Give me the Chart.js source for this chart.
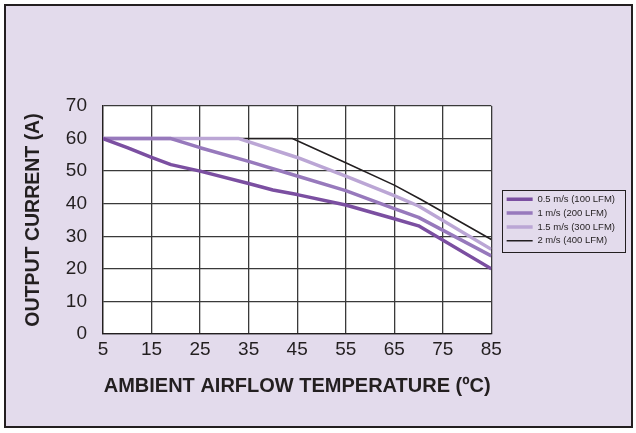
<!DOCTYPE html>
<html>
<head>
<meta charset="utf-8">
<script src="https://cdn.jsdelivr.net/npm/chart.js@4/dist/chart.umd.min.js"></script>
<style>
    body { margin: 0; background: #ffffff; }
    #frame {
        position: absolute; left: 4px; top: 4px;
        width: 625px; height: 420px;
        border: 2px solid #231f20;
        background: #e3dbec;
    }
    #wrap { position: absolute; left: 0; top: 0; width: 636px; height: 433px; }
</style>
</head>
<body>
<div id="frame"></div>
<div id="wrap"><canvas id="derating"></canvas></div>
<script>
// temperature (°C) / current (A) points
const temp05 = [5, 10, 15, 19, 25, 35, 40, 45, 55, 65, 70, 85];
const amps05 = [60, 57.2, 54.2, 52, 50, 46.2, 44.2, 42.8, 39.6, 35.4, 33.2, 20];

const temp1 = [5, 19, 25, 35, 45, 55, 65, 70, 85];
const amps1 = [60, 60, 57.2, 53, 48.5, 44, 38.5, 35.8, 24];

const temp15 = [5, 33, 45, 55, 65, 70, 85];
const amps15 = [60, 60, 54.2, 48.5, 42.5, 39.3, 26];

const temp2 = [5, 44, 55, 65, 70.5, 85];
const amps2 = [60, 60, 52.6, 45.7, 41.3, 29];

const seriesLabels = ["0.5 m/s (100 LFM)", "1 m/s (200 LFM)", "1.5 m/s (300 LFM)", "2 m/s (400 LFM)"];
const xTicks = [5, 15, 25, 35, 45, 55, 65, 75, 85];
const yTicks = [0, 10, 20, 30, 40, 50, 60, 70];

const ink = "#231f20";

function toPoints(xs, ys) {
    return xs.map((x, i) => ({ x: x, y: ys[i] }));
}

// white plot area + box round the legend
const plotBackground = {
    id: "plotBackground",
    beforeDraw(chart) {
        const { ctx, chartArea } = chart;
        ctx.save();
        ctx.fillStyle = "#ffffff";
        ctx.fillRect(chartArea.left, chartArea.top, chartArea.right - chartArea.left, chartArea.bottom - chartArea.top);
        ctx.restore();
    },
    afterDraw(chart) {
        const legend = chart.legend;
        if (!legend || !legend.legendHitBoxes.length) return;
        const boxes = legend.legendHitBoxes;
        const top = boxes[0].top - 5;
        const bottom = boxes[boxes.length - 1].top + boxes[boxes.length - 1].height + 6;
        const ctx = chart.ctx;
        ctx.save();
        ctx.strokeStyle = ink;
        ctx.lineWidth = 1;
        ctx.strokeRect(Math.round(legend.left) + 0.5, Math.round(top) + 0.5, Math.round(legend.width), Math.round(bottom - top));
        ctx.restore();
    }
};

const ctx = document.getElementById("derating").getContext("2d");
new Chart(ctx, {
    type: "line",
    data: {
        datasets: [
            {
                label: seriesLabels[0],
                data: toPoints(temp05, amps05),
                borderColor: "#7b4fa1",
                backgroundColor: "#7b4fa1",
                borderWidth: 3.5,
            },
            {
                label: seriesLabels[1],
                data: toPoints(temp1, amps1),
                borderColor: "#9779bc",
                backgroundColor: "#9779bc",
                borderWidth: 3.5,
            },
            {
                label: seriesLabels[2],
                data: toPoints(temp15, amps15),
                borderColor: "#bba6d5",
                backgroundColor: "#bba6d5",
                borderWidth: 3.5,
            },
            {
                label: seriesLabels[3],
                data: toPoints(temp2, amps2),
                borderColor: ink,
                backgroundColor: ink,
                borderWidth: 1.6,
            }
        ],
    },
    options: {
        responsive: true,
        maintainAspectRatio: false,
        animation: false,
        events: [],
        elements: {
            point: { radius: 0 },
            line: { tension: 0, borderCapStyle: "butt", borderJoinStyle: "round" },
        },
        layout: {
            padding: { left: 10, top: 106, right: 11, bottom: 0 },
        },
        plugins: {
            tooltip: { enabled: false },
            legend: {
                position: "right",
                fullSize: false,
                maxWidth: 200,
                labels: {
                    usePointStyle: true,
                    pointStyle: "line",
                    pointStyleWidth: 26,
                    padding: 4.3,
                    color: ink,
                    font: { family: "Liberation Sans", size: 9.5 },
                },
            },
        },
        scales: {
            x: {
                type: "linear",
                min: 5,
                max: 85,
                afterBuildTicks: (s) => { s.ticks = xTicks.map((v) => ({ value: v })); },
                afterFit: (s) => { s.height = 99; },
                grid: { color: "#3a3a3a", lineWidth: 1.3, drawTicks: false },
                border: { color: ink, width: 1.3 },
                ticks: {
                    padding: 4,
                    color: ink,
                    font: { family: "Liberation Sans", size: 19 },
                },
                title: {
                    display: true,
                    text: "AMBIENT AIRFLOW TEMPERATURE (ºC)",
                    color: ink,
                    font: { family: "Liberation Sans", size: 20, weight: "bold" },
                    padding: { top: 0, bottom: 35 },
                },
            },
            y: {
                min: 0,
                max: 70,
                afterBuildTicks: (s) => { s.ticks = yTicks.map((v) => ({ value: v })); },
                afterFit: (s) => { s.width = 93; },
                grid: { color: "#3a3a3a", lineWidth: 1.3, drawTicks: false },
                border: { color: ink, width: 1.3 },
                ticks: {
                    padding: 16,
                    color: ink,
                    font: { family: "Liberation Sans", size: 19 },
                },
                title: {
                    display: true,
                    text: "OUTPUT CURRENT (A)",
                    color: ink,
                    font: { family: "Liberation Sans", size: 19.5, weight: "bold" },
                    padding: { top: 12, bottom: 0 },
                },
            },
            // empty strip that keeps the legend clear of the plot edge
            gap: {
                position: "right",
                display: true,
                afterFit: (s) => { s.width = 11; },
                grid: { display: false },
                border: { display: false },
                ticks: { display: false },
            },
        },
    },
    plugins: [plotBackground],
});
</script>
</body>
</html>
